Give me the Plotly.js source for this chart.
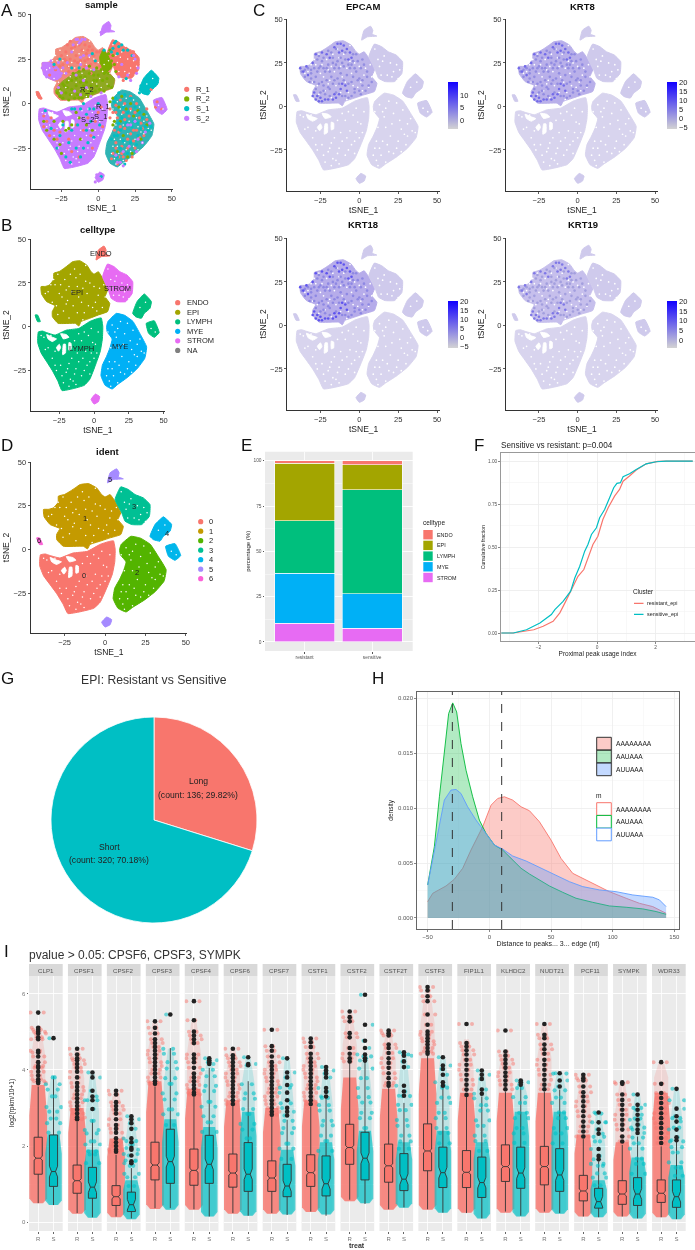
<!DOCTYPE html>
<html><head><meta charset="utf-8">
<script src="https://cdn.plot.ly/plotly-3.0.1.min.js"></script>
<style>html,body{margin:0;padding:0;background:#fff}#chart{filter:blur(.35px)}</style></head>
<body><div id="chart" style="width:695px;height:1250px"></div>
<script>
// ---------- tSNE cluster outlines, [tSNE_1, tSNE_2]
const clusterEPI=[[-38.1,22.9],[-35,23],[-32,23.8],[-29,27],[-28.9,30.5],[-25,31.5],[-21.6,33.3],[-18,35.5],[-15.5,37.1],[-10.3,37.7],[-5.2,35.2],[-2.1,31.4],[0,30],[3.1,31.4],[6.2,27.6],[9.7,21],[8,17.1],[11.3,13.3],[9.7,8.6],[3.1,6.7],[-3.1,4.8],[-9.3,2.9],[-10.9,.4],[-13.4,1.9],[-25.8,1.9],[-29.9,5.7],[-30,8.6],[-28,12],[-34,14.3],[-37.7,18.7]];
const clusterSTROM=[[6.2,28.6],[9.7,35.8],[14.4,34.3],[18.6,31.4],[23.7,29.5],[27.8,25.7],[27.4,19],[22.7,14.3],[16.5,14.3],[12.4,16.2],[10.3,21]];
const clusterUp4=[[27.8,7.6],[30.9,14.3],[36.1,18.7],[41.2,14.3],[40.2,10.5],[36.1,7.6],[34,4.8],[29.9,5.7]];
const clusterLow4=[[37.5,1.9],[43.3,3.4],[46.8,-3.4],[43.3,-6.1],[39.2,-3.8]];
const clusterTop=[[1.5,38.1],[3.1,43.8],[7.2,46.1],[8.7,43.8],[8.2,41.5],[11.3,40.4],[5.2,40]];
const clusterBottom=[[-2.1,-41.5],[1,-38.5],[4.1,-40],[3.1,-42.9],[0,-44.2]];
const clusterTiny=[[-42.3,6.7],[-40.6,6.7],[-38.6,2.9],[-40.6,2.9]];
const clusterLYMPH=[[-40,-3],[-37,-2.5],[-34,-3.4],[-28,-4.8],[-20,-2],[-11,-1],[-3,3],[2,4.5],[5.2,5],[6.3,0],[6,-7],[4.5,-14],[1,-22],[-3,-30],[-7,-33.5],[-15.5,-35.5],[-23,-36.5],[-26,-31],[-30,-25],[-34,-20],[-38,-15],[-40.5,-9]];
const clusterMYE=[[10,3],[16,7.6],[22,6.5],[28,3],[33,-4],[37.8,-11.5],[36.5,-18],[31,-24],[24,-29],[17,-33],[13,-35.6],[8,-33.5],[5,-28],[6,-22],[9,-17],[11.5,-12],[13,-7],[9.5,-3],[9,0]];
const holesLYMPH=[[[-34,-4.5],[-30,-6],[-27,-7],[-30,-8.5],[-33,-7]],[[-24,-4],[-20,-4.5],[-18,-6],[-22,-7]],[[-22,-10],[-20.5,-10],[-20.5,-15],[-22.5,-16]],[[-18,-9],[-16.5,-9.5],[-16.5,-13],[-18,-13.5]],[[-25,-10],[-24,-12],[-25.5,-14],[-27,-12]]];
const specks=[[-33,20],[-28,24],[-25,19],[-21,27],[-19,15],[-16,20],[-13,28],[-11,17],[-8,22],[-5,19],[-3,25],[-1,11],[3,18],[6,11],[-7,8],[-12,8],[-22,9],[-27,12],[-31,24],[-17,30],[-10,30],[-6,35],[0,23],[-15,12],[-24,24],[-18,5],[2,9],[8,17],[13,23],[16,29],[20,25],[24,24],[18,18],[22,20],[14,18],[25,16],[-36,-6],[-33,-12],[-30,-18],[-26,-12],[-24,-22],[-20,-26],[-17,-30],[-13,-24],[-9,-28],[-5,-22],[-2,-15],[1,-10],[3,-3],[-4,-5],[-9,-8],[-12,-15],[-16,-18],[-19,-24],[-15,-31],[-8,-18],[-3,-27],[-14,-8],[-6,-14],[0,-18],[-27,-25],[-22,-32],[-11,-4],[13,1],[19,3],[24,2],[28,-2],[12,-12],[16,-6],[21,-10],[26,-8],[31,-10],[34,-14],[15,-20],[20,-17],[25,-20],[29,-16],[10,-24],[14,-28],[19,-26],[24,-24],[17,-32],[12,-34],[9,-28],[30,-22],[-35,19],[-30,14],[-26,7],[-23,17],[-20,13],[-18,23],[-14,33],[-12,23],[-9,14],[-6,26],[-4,12],[1,14],[4,22],[7,24],[-29,27],[-26,30],[-20,21],[-8,4],[10,33],[15,26],[21,17],[26,21],[12,27],[-38,-5],[-35,-13],[-31,-5],[-28,-14],[-28,-22],[-23,-28],[-18,-21],[-14,-27],[-11,-20],[-7,-25],[-3,-20],[-1,-9],[2,-15],[-7,-3],[-2,-1],[-13,-33],[-18,-34],[10,-3],[17,-1],[22,-4],[27,-13],[33,-7],[36,-15],[11,-20],[17,-12],[22,-27],[27,-26],[13,-24],[18,-22],[15,-3],[31,-17],[11,-31],[15,-36],[33,11],[37,14],[41,-1],[44,-3]];
// ---------- Panel A: visible patches per sample
const regionS2Left=[[-38,23],[-33,23],[-27,20],[-25,15],[-30,13],[-37,16]];
const regionR2Low=[[-29,7],[-25,2.5],[-10,3],[3,7],[10,9],[11,14],[7,17],[-2,19],[-14,18],[-25,12]];
const regionR2Right=[[2,21],[5,17],[9.5,21],[6,28],[3,30],[1,26]];
const sampleR1=[[-22,29],[-18,31],[-25,27],[-15,27],[-11,30],[-12,34],[-8,28],[-6,32],[-3,27],[-14,23],[-19,25],[-9,24],[-5,22],[-24,22],[-29,19],[-20,18],[14,30],[17,25],[20,22],[15,20],[18,17],[23,22],[12,24],[21,28],[25,18],[17,13],[22,16],[26,24],[8,-8],[12,-5],[15,-13],[11,-15],[20,-20],[16,-24],[12,-22],[24,-15],[18,-9],[10,-28],[25,-25],[28,-8],[22,-3],[15,2],[30,-14],[14,-30],[19,-32],[-30,-15],[-35,-10],[2,-2],[-5,-18],[-20,-20],[-28,-20],[40,1],[43,-3],[39,-2],[36,8],[-41,5],[-39,3],[-27,25],[-23,25],[-21,33],[-19,35],[-16,32],[-13,33],[-9,33],[-7,30],[-4,30],[-1,29],[1,29],[-16,24],[-12,24],[-7,25],[-3,24],[-22,24],[-26,21],[-30,21],[-33,16],[-20,21],[-15,19],[-9,21],[-5,17],[-2,23],[1,21],[16,28],[19,31],[12,21],[15,23],[19,19],[22,25],[26,21],[23,18],[20,15],[18,23],[24,29],[14,17],[27,22],[10,-5],[13,-8],[17,-5],[21,-7],[25,-5],[29,-11],[33,-9],[14,-16],[18,-14],[22,-17],[26,-15],[12,-25],[16,-28],[20,-25],[24,-21],[28,-19],[31,-18],[13,-34],[17,-30],[23,-30],[9,-31],[18,0],[26,0],[12,-1],[8,-3],[22,4],[33,-3],[-37,-7],[-32,-8],[-37,-13],[-33,-18],[-26,-16],[-15,-12],[-7,-8],[-2,-10],[-10,-15],[-4,-25],[-18,-27],[0,-5],[3,-13],[-13,-30]];
const sampleR2=[[-8,12],[-12,15],[-15,10],[-18,8],[-22,6],[-10,7],[-5,10],[-3,13],[0,16],[3,13],[6,14],[-6,17],[-14,5],[-24,3],[-26,8],[-18,13],[-2,7],[8,20],[6,25],[7,28],[9,24],[5,22],[10,27],[12,18],[-1,20],[-10,19],[-7,4],[-20,2],[10,3],[14,-2],[22,0],[27,-4],[17,-18],[11,-10],[33,-12],[23,-28],[-18,-12],[-15,-5],[-30,-10],[-12,-20],[-22,-15],[-35,-15],[-25,-28],[-28,6],[-26,4],[-23,10],[-21,12],[-19,5],[-16,3],[-13,3],[-12,12],[-10,10],[-8,5],[-6,7],[-4,6],[-1,10],[1,8],[4,7],[7,10],[9,9],[-15,14],[-9,15],[-3,16],[2,19],[-6,21],[-1,13],[4,17],[7,17],[-17,17],[-13,18],[3,26],[4,29],[7,23],[2,23],[8,30],[11,22],[-24,11],[-21,9],[-11,3],[-30,-20],[-26,-23],[-20,-14],[-8,-12],[-13,-8],[-4,-15],[-37,-10],[-24,-10],[15,-10],[19,-3],[24,-7],[13,-27],[31,-6],[10,-12],[20,-30],[29,-20],[8,1],[16,4]];
const sampleS1=[[30,8],[33,13],[36,16],[38,13],[35,10],[31,12],[39,15],[37,9],[28,6],[12,35],[10,31],[13,28],[20,30],[16,33],[12,3],[18,5],[25,-2],[20,-5],[30,-8],[16,-8],[27,-18],[13,-18],[20,-28],[15,-25],[34,-15],[9,-20],[24,-10],[-16,-3],[-12,-3],[-8,-6],[-3,-3],[-18,-15],[-14,-12],[-10,-25],[-22,-30],[-5,-10],[-28,-25],[2,-41],[-18,20],[-30,22],[-2,24],[29,10],[32,9],[34,15],[37,17],[40,12],[35,13],[33,6],[38,11],[14,6],[11,1],[22,3],[17,-2],[28,-5],[14,-11],[19,-11],[23,-13],[27,-11],[32,-13],[11,-18],[17,-21],[22,-22],[26,-23],[13,-30],[18,-34],[15,-15],[29,-14],[36,-13],[-10,0],[-18,-3],[-6,-3],[0,0],[-24,-12],[-26,-18],[-20,-22],[-15,-25],[-7,-22],[-12,-30],[-3,-19],[1,-12],[-36,-4],[-32,-14],[-19,-33],[-8,-15],[11,34],[14,32],[17,30],[9,29],[23,27],[19,14],[-26,25],[-13,20],[-4,28],[4,30]];
const sampleS2=[[-37,22],[-33,19],[-35,15],[-30,16],[-28,14],[-32,24],[-25,17],[-14,36],[-12,35],[-17,33],[-9,36],[-12,26],[-10,13],[-16,7],[6,44],[4,41],[7,42],[0,-43],[-1,-40],[25,-10],[30,-22],[17,-35],[13,-33],[20,-12],[24,27],[27,20],[22,13],[14,15],[42,-2],[44,-4],[40,-1],[-38,20],[-36,18],[-34,21],[-31,18],[-29,20],[-27,16],[-27,23],[-24,20],[-21,23],[-22,17],[-15,36],[-11,36],[-13,34],[-18,29],[-10,27],[-6,27],[-15,16],[-12,22],[-8,20],[-3,19],[-8,9],[-12,5],[-25,6],[-27,9],[2,6],[-5,4],[27,-20],[21,-24],[17,-27],[15,-33],[32,-16],[35,-11],[22,-12],[12,-29],[26,-27],[25,25],[26,17],[20,16],[16,22],[5,43],[2,40],[-2,-44],[1,-42],[41,-4],[45,-2],[43,1]];
// ---------- Feature panels: brighter EPI cells
const hotRim=[[-30,6],[-28,4],[-26,3],[-24,3],[-27,6],[-25,5],[-22,4],[-29,8],[-20,4],[-17,4],[-15,5],[-13,7],[-16,7],[-12,10],[-11,13],[-9,12],[-8,9],[-12,36],[-14,36],[-10,35],[-8,33],[-6,31],[-5,28],[-16,34],[-11,32],[-13,31],[-7,27],[-38,22],[-36,20],[-34,23],[-33,18],[-30,25],[-28,30],[-24,31],[-21,30],[-19,28]];
const hotMid=[[-35,17],[-31,21],[-28,17],[-26,22],[-24,26],[-22,20],[-20,24],[-18,17],[-16,22],[-14,26],[-12,19],[-10,23],[-8,18],[-6,22],[-4,26],[-2,20],[0,16],[-5,14],[-3,10],[2,12],[5,17],[-20,11],[-23,9],[-26,13],[-17,13],[-14,16],[-9,6],[-5,6],[1,7],[4,9],[-2,30],[2,27],[-18,31],[-32,14],[-27,27],[-37,20],[-35,21],[-33,22],[-31,19],[-29,22],[-27,20],[-25,23],[-23,22],[-21,22],[-19,20],[-17,25],[-15,24],[-13,22],[-11,25],[-9,27],[-7,24],[-5,24],[-3,22],[-1,26],[1,22],[3,24],[5,20],[-26,29],[-23,28],[-20,32],[-17,28],[-15,33],[-12,28],[-9,31],[-4,30],[-31,16],[-29,14],[-24,14],[-21,15],[-19,10],[-16,15],[-13,13],[-10,15],[-7,13],[-4,17],[-1,15],[2,15],[6,12],[8,14],[-22,7],[-19,6],[-15,8],[-11,6],[-7,5],[-3,8],[0,9],[-28,10],[-25,8],[-23,12]];
const featureNames=['EPCAM','KRT8','KRT18','KRT19'];
const featureRange=[[-3.6,15.3],[-6,20.3],[-5.6,20.3],[-4,20.3]];
const featureTicks=[[0,5,10],[-5,0,5,10,15,20],[-5,0,5,10,15,20],[0,5,10,15,20]];
const featureRim=[6,7,10,6.5];
const featureMid=[2.6,2.8,3.6,2];
// ---------- Panel E
const cellTypes=['STROM','MYE','LYMPH','EPI','ENDO'];
const cellColors=['#E76BF3','#00B0F6','#00BF7D','#A3A500','#F8766D'];
const groupsE=['resistant','sensitive'];
const resistantPct=[10.3,27.6,28.9,31.8,1.4];
const sensitivePct=[7.5,19.2,57.3,13.8,2.2];
// ---------- Panel F
const fResX=[-3.27,-2.86,-2.16,-1.84,-1.5,-1.27,-1.07,-.82,-.65,-.45,-.31,-.14,.03,.2,.38,.6,.77,.89,1.11,1.34,1.68,2.08,2.36,3.27];
const fResY=[0,0,.019,.039,.068,.117,.184,.272,.33,.369,.437,.515,.563,.66,.728,.796,.835,.883,.913,.948,.984,.998,1,1];
const fSenX=[-3.27,-2.86,-2.41,-1.95,-1.56,-1.44,-1.16,-.9,-.76,-.59,-.42,-.31,-.19,-.02,.09,.26,.43,.57,.68,.8,.89,1.11,1.34,1.68,2.02,2.36,3.27];
const fSenY=[0,0,.019,.058,.107,.136,.184,.243,.32,.388,.476,.515,.573,.612,.67,.718,.786,.845,.87,.874,.909,.926,.951,.984,.996,1,1];
// ---------- Panel G
const pieLabels=['Long','Short'];
const pieCounts=[136,320];
// ---------- Panel H
const hRedX=[-50,-45.9,-35.1,-28.4,-21.6,-14.9,-5.4,1.4,6.8,12.2,18.9,25.7,32.5,40.6,50,58.1,67.6,78.4,89.2,97.3,110.9,121.7,132.5,143.3];
const hRedY=[.00148,.00224,.00291,.00352,.00452,.00618,.0083,.01027,.01088,.01103,.01073,.01012,.00976,.00876,.00709,.00542,.00406,.00345,.00279,.00239,.00179,.00133,.00103,.00042];
const hGreenX=[-50,-44.6,-40.5,-36.5,-33,-29.7,-26.5,-23,-18.9,-13.5,-8.1,-2.7,4.1,10.8,17.6,25.7,32.5,40.6,48.7,59.5,70.3,83.8,97.3,110.9,124.4,135.2,143.3];
const hGreenY=[.003,.00648,.01103,.01497,.01861,.01958,.01876,.01588,.01345,.01103,.00891,.0077,.00664,.00618,.00542,.00452,.004,.00345,.00291,.00233,.00179,.00142,.00109,.00097,.00082,.00058,.00033];
const hBlueX=[-50,-44.6,-40.5,-36.5,-31.1,-27,-23,-17.6,-10.8,-2.7,4.1,10.8,18.9,29.8,40.6,51.4,64.9,75.7,89.2,102.7,116.3,132.5,137.9,143.3];
const hBlueY=[.003,.00618,.00861,.01073,.01164,.0117,.01133,.01012,.00891,.0077,.00664,.00627,.00564,.00518,.00461,.004,.0033,.00285,.00255,.00239,.00209,.00188,.00164,.00103];
const hLines=[-30,10];
const motifs=['AAAAAAAA','AAUAAA','AUUAAA'];
// ---------- Panel I: [q1, median, q3, lower whisker, upper whisker]
const genes=['CLP1','CPSF1','CPSF2','CPSF3','CPSF4','CPSF6','CPSF7','CSTF1','CSTF2','CSTF2T','CSTF3','FIP1L1','KLHDC2','NUDT21','PCF11','SYMPK','WDR33'];
const boxR=[[1.26,1.68,2.23,.5,3.56],[.76,1.09,1.5,.24,2.64],[.44,.67,.96,.15,1.77],[1.11,1.5,2.1,.37,3.56],[.97,1.36,1.92,.34,3.3],[.92,1.29,1.79,.24,3.08],[.81,1.16,1.61,.24,2.78],[.94,1.3,1.77,.28,3.04],[1.52,1.96,2.57,.59,4.18],[1.05,1.48,2.05,.34,3.56],[1.35,1.87,2.58,.34,4.4],[.91,1.31,1.88,.24,3.3],[1.07,1.46,2.03,.28,3.43],[.98,1.46,1.99,.28,3.43],[.56,.82,1.23,.15,2.18],[.47,.74,1.09,.15,2.03],[.52,.76,1.11,.13,1.99]];
const boxS=[[.94,1.33,2.29,.45,3.83],[.63,.92,1.44,.13,2.69],[.28,.46,.79,.1,1.42],[1.02,1.59,2.44,.37,4.57],[1.02,1.52,2.28,.15,4.05],[.81,1.26,2.09,.17,3.7],[.67,.95,1.52,.19,2.69],[.69,1.01,1.74,.17,3.3],[1.11,1.68,2.36,.48,4.22],[.83,1.13,1.8,.39,3.13],[.91,1.3,1.97,.25,3.56],[.65,1.04,1.71,.1,3.3],[.89,1.29,1.97,.17,3.56],[.81,1.24,1.93,.24,3.48],[.37,.54,.89,.13,1.59],[.44,.74,1.17,.1,2.25],[.39,.67,1.11,.08,2.12]];
// jittered cloud extent: [bottom, top of dense part, top]
const cloudR=[[.5,3.6,5.15],[.22,3,4.55],[.13,2.2,3.45],[.35,3.7,5.25],[.33,3.5,5.3],[.22,3.2,4.55],[.22,3,4.65],[.27,3.2,4.8],[.55,3.8,5.5],[.33,3.5,5.05],[.33,4.3,6.1],[.25,3.4,4.8],[.25,3.4,4.5],[.25,3.4,5.2],[.15,2.3,3.9],[.15,2.1,3.7],[.13,3.4,4.2]];
const cloudS=[[.45,2.3,3.85],[.12,1.9,3.9],[.08,1.1,2.8],[.33,2.7,4.55],[.15,2.5,4.3],[.17,2.9,4.3],[.2,1.9,4.3],[.2,2.1,4.1],[.5,2.4,4.4],[.38,2.1,4.45],[.25,2.4,4.35],[.1,2.1,4],[.15,2.9,3.75],[.22,2.9,3.95],[.13,1.1,2.9],[.1,1.7,3.35],[.08,1.5,3.5]];
const outR=[[5.5,5.1,5.05,5,4.95,4.85,4.8,4.5,4.45,4.35,4.2,4.1,4.05,3.95,3.85,3.75,3.7,3.65],[4.55,4.4,4.3,4.25,4.15,4.05,3.95,3.8,3.65,3.55,3.45,3.35,3.25,3.15,3.05,2.95,2.85,2.75,2.7],[3.45,3.35,3.15,3.05,2.95,2.85,2.7,2.55,2.45,2.35,2.2,2.1,2,1.9,1.85],[5.27,5.1,4.95,4.8,4.7,4.6,4.5,4.4,4.3,4.2,4.1,4,3.9,3.8,3.7,3.63],[5.8,5.3,5,4.9,4.8,4.7,4.4,4.3,4.2,4.05,3.9,3.8,3.7,3.6,3.5,3.4,3.35],[4.55,4.38,4.3,4.2,4.1,4,3.9,3.8,3.7,3.6,3.5,3.4,3.3,3.2,3.1],[5.05,4.62,4.5,4.35,4.2,4.1,4,3.9,3.8,3.7,3.6,3.5,3.4,3.3,3.2,3.1,3,2.9,2.82],[4.82,4.72,4.6,4.42,4.3,4.2,4.1,4,3.9,3.8,3.7,3.6,3.5,3.4,3.3,3.2,3.1],[5.53,5.38,5.27,4.96,4.85,4.57,4.42,4.3,4.22],[5.03,4.96,4.9,4.66,4.57,4.44,4.3,4.18,4.05,3.91,3.78,3.65,3.58],[6.17,6.08,5.93,5.8,5.45,5.18,5,4.92,4.83,4.75,4.66,4.57,4.48,4.42],[5.2,4.7,4.61,4.51,4.4,4.26,4.13,4,3.87,3.74,3.61,3.48,3.34],[5.03,4.48,4.37,4.26,4.16,4.05,3.93,3.83,3.72,3.61,3.49],[5.2,4.92,4.83,4.66,4.54,4.42,4.26,4.13,4,3.87,3.74,3.61,3.49],[3.87,3.78,3.72,3.56,3.41,3.3,3.17,3.04,2.91,2.78,2.64,2.51,2.38,2.25],[3.67,3.63,3.35,3.21,3.08,2.95,2.82,2.69,2.56,2.43,2.25,2.12],[4.2,3.63,3.39,3.26,3.13,2.99,2.86,2.73,2.6,2.47,2.34,2.21,2.08]];
const outS=[[4.83],[3.93,3.8,3.45,3.3,3.2,2.97],[2.78,2.7,2.6,2.45,2.2,2.1,1.95,1.9,1.75,1.6,1.55],[5.45],[4.3,4.25,4.2,4.15],[4.33,4.15,4.12],[4.3,3.93,3.8,3.6,3.4,3.2,3,2.9,2.8],[4.07,3.98,3.9,3.8,3.52,3.42,3.3],[5.97,5.18,4.76,4.57,4.4,4.3,4.24],[4.46,4.37,4.22,4.07,3.58,3.43,3.32],[4.33,4.11,4.02,3.87,3.67,3.58],[3.98,3.87,3.76,3.48,3.37],[3.72,3.67,3.61],[3.91,3.72,3.56],[2.88,2.62,2.43,2.32,1.92,1.74,1.65],[3.35,3.08,2.95,2.82,2.69,2.56,2.43,2.34],[3.5,2.98,2.78,2.64,2.43,2.23,2.15]];
const sparseS=[[2.35,2.6,2.72,2.9,3.02,3.3,3.48,3.62,3.8],[1.55,1.78,1.86,2.04,2.12,2.33,2.42,2.66,3.2],[.95,1.18,1.27,1.48,1.62,1.79,2.03,2.13],[2.55,2.83,2.96,3.22,3.38,3.63,3.78,4.03,4.2,4.42,4.55],[2.37,2.62,2.78,3.03,3.16,3.44,3.58,3.83,4],[2.2,2.43,2.58,2.84,2.97,3.24,3.38,3.62],[1.66,1.93,2.06,2.34,2.47,2.66,3.12,3.53],[1.87,2.13,2.27,2.54,2.66,2.93,3.07,3.26],[2.47,2.73,2.87,3.14,3.28,3.52,3.78,4.03,4.35],[1.93,2.12,2.27,2.53,2.68,2.94,3.08,3.31,4.4],[2.07,2.34,2.47,2.73,2.87,3.13,3.27,3.53],[1.87,2.13,2.27,2.53,2.67,2.93,3.07,3.25],[2.08,2.33,2.47,2.73,2.87,3.13,3.28,3.52],[2.07,2.33,2.47,2.73,2.88,3.13,3.27,3.46,3.9],[.97,1.17,1.28,1.48,1.53,2.12,2.24,2.62,2.85],[1.27,1.53,1.67,1.93,2.07,2.22,2.48,2.72,3],[1.22,1.43,1.57,1.83,1.97,2.12,2.48,2.73,3.2]];
const jitterOffsets=[.36,-.42,.18,-.27,.5,-.1,.28,-.5,.08,-.33,.44,-.18,.24,-.46,.12,-.38,.4,-.05,.32,-.24];

// ---------- page helpers
const W=695,H=1250,FONT='"Liberation Sans",Arial,sans-serif';
const traces=[],shapes=[],annotations=[];
const layout={width:W,height:H,margin:{l:0,r:0,t:0,b:0,pad:0},paper_bgcolor:'#fff',plot_bgcolor:'rgba(0,0,0,0)',showlegend:false,font:{family:FONT,color:'#222'},hovermode:false,shapes,annotations};
let axisN=0;
function axes(x0,x1,yT,yB,xr,yr,xo,yo){axisN++;const k=axisN===1?'':axisN;
  layout['xaxis'+k]=Object.assign({domain:[x0/W,x1/W],range:xr,anchor:'y'+k,zeroline:false,showgrid:false,fixedrange:true},xo);
  layout['yaxis'+k]=Object.assign({domain:[1-yB/H,1-yT/H],range:yr,anchor:'x'+k,zeroline:false,showgrid:false,fixedrange:true},yo);
  return {xaxis:'x'+k,yaxis:'y'+k,xk:'x'+k,yk:'y'+k};}
function txt(x,y,text,o={}){annotations.push({xref:'paper',yref:'paper',x:x/W,y:1-y/H,text,showarrow:false,xanchor:o.a||'center',yanchor:'middle',textangle:o.angle||0,font:{size:o.size||8,color:o.color||'#222',family:FONT},borderpad:0,borderwidth:0});}
function rect(x0,y0,x1,y1,o={}){shapes.push({type:o.type||'rect',xref:'paper',yref:'paper',x0:x0/W,x1:x1/W,y0:1-y0/H,y1:1-y1/H,fillcolor:o.fill||'rgba(0,0,0,0)',line:{width:o.lw||0,color:o.lc||'rgba(0,0,0,0)'},layer:o.layer||'above'});}
const dot=(x,y,c)=>rect(x-2.6,y-2.6,x+2.6,y+2.6,{type:'circle',fill:c});
const xs=a=>a.map(p=>p[0]),ys=a=>a.map(p=>p[1]);
function poly(ax,pts,color){traces.push({type:'scatter',mode:'lines',x:xs(pts).concat(pts[0][0]),y:ys(pts).concat(pts[0][1]),fill:'toself',fillcolor:color,line:{color,width:1,shape:'spline',smoothing:.35},xaxis:ax.xaxis,yaxis:ax.yaxis});}
function pts(ax,p,color,size){traces.push({type:'scatter',mode:'markers',x:xs(p),y:ys(p),marker:{color,size,line:{width:0}},xaxis:ax.xaxis,yaxis:ax.yaxis});}
const LET=(x,y,t)=>txt(x,y,t,{size:17,color:'#111',a:'left'});

function tsneAxes(x0,x1,yT,yB,xr,yr){
  const tf={size:7.5,color:'#333',family:FONT},lc={showline:true,linecolor:'#333',linewidth:1,ticks:'outside',ticklen:2,tickcolor:'#333',tickwidth:.8,tickfont:tf,tickvals:[-25,0,25,50]};
  return axes(x0,x1,yT,yB,xr,yr,Object.assign({title:{text:'tSNE_1',font:{size:8.5,color:'#222',family:FONT},standoff:1}},lc),Object.assign({title:{text:'tSNE_2',font:{size:8.5,color:'#222',family:FONT},standoff:2}},lc));}
function drawClusters(ax,map,speckSize){
  poly(ax,clusterLYMPH,map.LYMPH);poly(ax,clusterMYE,map.MYE);poly(ax,clusterEPI,map.EPI);poly(ax,clusterSTROM,map.STROM);
  poly(ax,clusterUp4,map.Up4);poly(ax,clusterLow4,map.Low4);poly(ax,clusterTop,map.Top);poly(ax,clusterBottom,map.Bottom);poly(ax,clusterTiny,map.Tiny);
  holesLYMPH.forEach(h=>poly(ax,h,'#fff'));
  if(speckSize)pts(ax,specks,'#fff',speckSize);
}

// ---------- Panel A
const axA=tsneAxes(30.5,173.3,14,189,[-46,51],[-48,50.3]);
drawClusters(axA,{LYMPH:'#C77CFF',MYE:'#2FB4B4',EPI:'#F08A7C',STROM:'#F8766D',Up4:'#00BFC4',Low4:'#C77CFF',Top:'#C77CFF',Bottom:'#C77CFF',Tiny:'#F8766D'},0);
poly(axA,regionS2Left,'#C77CFF');poly(axA,regionR2Low,'#8FA820');poly(axA,regionR2Right,'#7CAE00');
pts(axA,sampleR1,'#F8766D',3.2);pts(axA,sampleR2,'#7CAE00',3.2);pts(axA,sampleS1,'#00BFC4',3.2);pts(axA,sampleS2,'#C77CFF',3.2);
pts(axA,specks,'#fff',1.5);
txt(101.7,4.8,'<b>sample</b>',{size:9.5,color:'#111'});
[['R_2',-7.3,8],['R_1',3.4,-1.7],['S_1',1.8,-7],['S_2',-7.5,-8.8]].forEach(l=>annotations.push({xref:axA.xk,yref:axA.yk,x:l[1],y:l[2],text:l[0],showarrow:false,font:{size:7.5,color:'#222',family:FONT}}));
['R_1','R_2','S_1','S_2'].forEach((s,i)=>{const y=89.3+i*9.66;dot(186.7,y,['#F8766D','#7CAE00','#00BFC4','#C77CFF'][i]);txt(195.7,y,s,{a:'left',size:7.5});});
LET(1,10,'A');

// ---------- Panel B
const axB=tsneAxes(30.7,165,239,410.7,[-45.5,51],[-48,50.1]);
drawClusters(axB,{LYMPH:'#00BF7D',MYE:'#00B0F6',EPI:'#A3A500',STROM:'#E76BF3',Up4:'#00BF7D',Low4:'#00BF7D',Top:'#F8766D',Bottom:'#E76BF3',Tiny:'#00BF7D'},1.5);
txt(97.3,229,'<b>celltype</b>',{size:9.5,color:'#111'});
[['ENDO',5,41.8],['EPI',-12.2,19.5],['STROM',16.7,21.8],['LYMPH',-9.3,-12.2],['MYE',18.9,-11.6]].forEach(l=>annotations.push({xref:axB.xk,yref:axB.yk,x:l[1],y:l[2],text:l[0],showarrow:false,font:{size:7.5,color:'#222',family:FONT}}));
['ENDO','EPI','LYMPH','MYE','STROM','NA'].forEach((s,i)=>{const y=302.7+i*9.54;dot(177.7,y,['#F8766D','#A3A500','#00BF7D','#00B0F6','#E76BF3','#7F7F7F'][i]);txt(187,y,s,{a:'left',size:7.5});});
LET(1,226,'B');

// ---------- Panel D
const axD=tsneAxes(30.7,187,462,633,[-46,50.7],[-47.6,50]);
drawClusters(axD,{LYMPH:'#F8766D',MYE:'#53B400',EPI:'#C49A00',STROM:'#00C094',Up4:'#00B6EB',Low4:'#00B6EB',Top:'#A58AFF',Bottom:'#A58AFF',Tiny:'#FB61D7'},1.5);
txt(108.3,452,'<b>ident</b>',{size:9.5,color:'#111'});
[['0',-13,-14.9],['1',-12.4,17.9],['2',19.6,-13.3],['3',18.1,24.4],['4',38.1,9],['5',3.1,40],['6',-40.8,5.3]].forEach(l=>annotations.push({xref:axD.xk,yref:axD.yk,x:l[1],y:l[2],text:l[0],showarrow:false,font:{size:7.5,color:'#222',family:FONT}}));
['0','1','2','3','4','5','6'].forEach((s,i)=>{const y=521.7+i*9.5;dot(200.7,y,['#F8766D','#C49A00','#53B400','#00C094','#00B6EB','#A58AFF','#FB61D7'][i]);txt(209.3,y,s,{a:'left',size:7.5});});
LET(1,445,'D');

// ---------- Panel C
const featBox=[[287.3,440,18.7,191,448.3,81.7,129,363.3,6],[506,658,18.7,191,667.3,81.7,129,582.7,6],[287.3,440,237.7,410,448.3,300.7,348,363.3,224.7],[506,658,237.7,410,667.3,300.7,348,582.7,224.7]];
const baseFill='#D8D4EE',epiFill=['#BDB5EA','#B9B0EA','#B6ACEA','#C6BFEC'];
const SCALE=[[0,'#D3D3D3'],[1,'#1100FF']];
featureNames.forEach((f,i)=>{const b=featBox[i];
  const ax=tsneAxes(b[0],b[1],b[2],b[3],[-46.3,51.9],[-48.6,50.4]);
  drawClusters(ax,{LYMPH:baseFill,MYE:baseFill,EPI:epiFill[i],STROM:'#CFCAEC',Up4:'#CFCAEC',Low4:'#CFCAEC',Top:'#CFCAEC',Bottom:'#CFCAEC',Tiny:'#CFCAEC'},1.7);
  const r=featureRange[i];
  traces.push({type:'scatter',mode:'markers',x:xs(hotMid),y:ys(hotMid),marker:{size:2.6,color:hotMid.map(()=>featureMid[i]),cmin:r[0],cmax:r[1],colorscale:SCALE,showscale:false,line:{width:0}},xaxis:ax.xaxis,yaxis:ax.yaxis});
  traces.push({type:'scatter',mode:'markers',x:xs(hotRim),y:ys(hotRim),marker:{size:2.6,color:hotRim.map(()=>featureRim[i]),cmin:r[0],cmax:r[1],colorscale:SCALE,showscale:true,line:{width:0},
    colorbar:{x:b[4]/W,xanchor:'left',xpad:0,y:1-(b[5]+b[6])/2/H,yanchor:'middle',ypad:0,thickness:9.7,thicknessmode:'pixels',len:b[6]-b[5],lenmode:'pixels',outlinewidth:0,ticks:'',tickvals:featureTicks[i],tickfont:{size:7.5,color:'#222',family:FONT}}},xaxis:ax.xaxis,yaxis:ax.yaxis});
  txt(b[7],b[8],'<b>'+f+'</b>',{size:9.5,color:'#111'});
});
LET(253,10,'C');

// ---------- Panel E
rect(265,451.7,412.7,651,{fill:'#EBEBEB',layer:'below'});
const axE=axes(265,412.7,451.7,651,[-.587,1.6],[-5,105],
 {type:'linear',tickvals:[0,1],ticktext:groupsE,showgrid:true,gridcolor:'#fff',gridwidth:.8,ticks:'outside',ticklen:1.5,tickcolor:'#555',tickfont:{size:4.8,color:'#555',family:FONT}},
 {tickvals:[0,25,50,75,100],showgrid:true,gridcolor:'#fff',gridwidth:.8,minor:{dtick:12.5,showgrid:true,gridcolor:'#fff',gridwidth:.4},ticks:'outside',ticklen:1.5,tickcolor:'#555',tickfont:{size:4.8,color:'#555',family:FONT},title:{text:'percentage (%)',font:{size:6,color:'#222',family:FONT},standoff:2}});
cellTypes.forEach((c,i)=>traces.push({type:'bar',x:[0,1],y:[resistantPct[i],sensitivePct[i]],width:.89,marker:{color:cellColors[i],line:{color:'#fff',width:.6}},xaxis:axE.xaxis,yaxis:axE.yaxis}));
layout.barmode='stack';
txt(423,523.3,'celltype',{a:'left',size:6.5});
['ENDO','EPI','LYMPH','MYE','STROM'].forEach((s,i)=>{const y=534.7+i*10.7;rect(423.3,y-4.7,432.7,y+4.7,{fill:['#F8766D','#A3A500','#00BF7D','#00B0F6','#E76BF3'][i]});txt(437,y,s,{a:'left',size:5.4});});
LET(241,445,'E');

// ---------- Panel F
const gridF={showgrid:true,gridcolor:'#ECECEC',gridwidth:.8,showline:true,mirror:true,linecolor:'#999',linewidth:1,ticks:'outside',ticklen:1.5,tickcolor:'#888',tickfont:{size:4.8,color:'#555',family:FONT}};
const axF=axes(500.7,694.5,453.3,641,[-3.29,3.33],[-.0465,1.045],
 Object.assign({tickvals:[-2,0,2],minor:{dtick:1,showgrid:true,gridcolor:'#F2F2F2',gridwidth:.5},title:{text:'Proximal peak usage index',font:{size:6.5,color:'#222',family:FONT},standoff:1}},gridF),
 Object.assign({tickvals:[0,.25,.5,.75,1],tickformat:'.2f',minor:{dtick:.125,showgrid:true,gridcolor:'#F2F2F2',gridwidth:.5},title:{text:'Cumulative fraction',font:{size:5.2,color:'#222',family:FONT},standoff:2}},gridF));
traces.push({type:'scatter',mode:'lines',x:fResX,y:fResY,line:{color:'#F8766D',width:1.2},xaxis:axF.xaxis,yaxis:axF.yaxis});
traces.push({type:'scatter',mode:'lines',x:fSenX,y:fSenY,line:{color:'#00BFC4',width:1.2},xaxis:axF.xaxis,yaxis:axF.yaxis});
txt(501,445.5,'Sensitive vs resistant: p=0.004',{a:'left',size:8.2});
txt(633,591.7,'Cluster',{a:'left',size:6.4});
[['resistant_epi','#F8766D',603.3],['sensitive_epi','#00BFC4',614.3]].forEach(l=>{rect(634,l[2],643.5,l[2],{lw:1.2,lc:l[1]});txt(647,l[2],l[0],{a:'left',size:5.4});});
LET(474,445,'F');

// ---------- Panel G
traces.push({type:'pie',labels:pieLabels,values:pieCounts,sort:false,direction:'clockwise',rotation:0,textinfo:'none',marker:{colors:['#F8766D','#00BFC4'],line:{color:'#fff',width:.8}},domain:{x:[51/W,257/W],y:[1-923/H,1-717/H]}});
txt(154,680.3,'EPI: Resistant vs Sensitive',{size:12.2,color:'#333'});
const pieSum=pieCounts[0]+pieCounts[1];
[[198.3,781.3,795],[109.3,846.7,860.3]].forEach((p,i)=>{txt(p[0],p[1],pieLabels[i],{size:8.6});txt(p[0],p[2],'(count: '+pieCounts[i]+'; '+(100*pieCounts[i]/pieSum).toFixed(2)+'%)',{size:8.6});});
LET(1,678,'G');

// ---------- Panel H
const gridH={showgrid:true,gridcolor:'#EDEDED',gridwidth:.8,showline:true,mirror:true,linecolor:'#666',linewidth:1,ticks:'outside',ticklen:1.5,tickcolor:'#888',tickfont:{size:6,color:'#555',family:FONT}};
const axH=axes(416.7,679.3,691.7,929,[-58.9,154],[-.00101,.0206],
 Object.assign({tickvals:[-50,0,50,100,150],minor:{dtick:25,showgrid:true,gridcolor:'#F3F3F3',gridwidth:.5},title:{text:'Distance to peaks... 3... edge (nt)',font:{size:7,color:'#222',family:FONT},standoff:2}},gridH),
 Object.assign({tickvals:[0,.005,.01,.015,.02],tickformat:'.3f',minor:{dtick:.0025,showgrid:true,gridcolor:'#F3F3F3',gridwidth:.5},title:{text:'density',font:{size:6.5,color:'#222',family:FONT},standoff:3}},gridH));
[[hRedX,hRedY,'#F8766D','rgba(248,118,109,.38)'],[hGreenX,hGreenY,'#00BA38','rgba(0,186,56,.30)'],[hBlueX,hBlueY,'#619CFF','rgba(97,156,255,.38)']].forEach(s=>traces.push({type:'scatter',mode:'lines',x:s[0],y:s[1],fill:'tozeroy',fillcolor:s[3],line:{color:s[2],width:.9},xaxis:axH.xaxis,yaxis:axH.yaxis}));
hLines.forEach(v=>shapes.push({type:'line',xref:axH.xk,yref:axH.yk+' domain',x0:v,x1:v,y0:0,y1:1,line:{color:'#333',width:1,dash:'dash'},layer:'above'}));
const keyFill=['rgba(248,118,109,.38)','rgba(0,186,56,.30)','rgba(97,156,255,.38)'],keyLine=['#F8766D','#00BA38','#619CFF'];
motifs.forEach((m,i)=>{const y=737.3+i*12.8;rect(596.7,y,611.3,y+12.8,{fill:keyFill[i],lw:1,lc:'#333'});txt(615.7,y+6.4,m,{a:'left',size:6.6});});
txt(596,795.3,'m',{a:'left',size:6.6});
motifs.forEach((m,i)=>{const y=802.7+i*12.7;rect(596.7,y,611.3,y+12.7,{fill:'#fff',lw:1,lc:keyLine[i]});txt(615.7,y+6.4,m,{a:'left',size:6.6});});
LET(372,678,'H');

// ---------- Panel I
const pitch=(652-29)/16,fw=33.7,C_R='#F8766D',C_S='#00BFC4';
function cloudPath(cx,lo,top,wBody,wTop,yNarrow){return 'M'+(cx-wBody*.55)+','+lo+' L'+(cx-wBody)+','+(lo+.12)+' L'+(cx-wBody)+','+yNarrow+' L'+(cx-wTop)+','+top+' L'+(cx+wTop)+','+top+' L'+(cx+wBody)+','+yNarrow+' L'+(cx+wBody)+','+(lo+.12)+' L'+(cx+wBody*.55)+','+lo+' Z';}
genes.forEach((g,i)=>{
  const x0=29+i*pitch,x1=x0+fw;
  rect(x0,976,x1,1231,{fill:'#EBEBEB',layer:'below'});
  rect(x0,964,x1,976,{fill:'#D9D9D9'});
  txt((x0+x1)/2,970.3,g,{size:6.2,color:'#555'});
  const ax=axes(x0,x1,976,1231,[.4,2.6],[-.23,6.46],
   {tickvals:[1,2],ticktext:['R','S'],showgrid:true,gridcolor:'#fff',gridwidth:.8,ticks:'outside',ticklen:1.5,tickcolor:'#666',tickfont:{size:6,color:'#777',family:FONT},showticklabels:true},
   {tickvals:[0,2,4,6],showgrid:true,gridcolor:'#fff',gridwidth:.8,minor:{dtick:1,showgrid:true,gridcolor:'#fff',gridwidth:.4},ticks:i?'':'outside',ticklen:1.5,tickcolor:'#666',tickfont:{size:6,color:'#777',family:FONT},showticklabels:i===0});
  [[cloudR[i],1,C_R,.58],[cloudS[i],2,C_S,.54]].forEach(c=>{
    const v=c[0],narrow=(v[1]+v[2])/2;
    shapes.push({type:'path',xref:ax.xk,yref:ax.yk,path:cloudPath(c[1],v[0],v[2],c[3]*.8,.16,narrow),fillcolor:c[2]+'2E',line:{width:0},layer:'between'});
    shapes.push({type:'path',xref:ax.xk,yref:ax.yk,path:cloudPath(c[1],v[0],v[1],c[3],c[3]*.72,v[1]*.78),fillcolor:c[2]+(c[1]===1?'CC':'A8'),line:{width:0},layer:'between'});
  });
  [[boxR[i],1,C_R,.05],[boxS[i],2,C_S,.14]].forEach(b=>{const v=b[0];
    traces.push({type:'box',x:[b[1]],q1:[v[0]],median:[v[1]],q3:[v[2]],lowerfence:[v[3]],upperfence:[v[4]],notched:true,notchspan:[b[3]],notchwidth:.25,width:.53,whiskerwidth:0,boxpoints:false,fillcolor:b[2],line:{color:'#333',width:.9},xaxis:ax.xaxis,yaxis:ax.yaxis});
  });
  // jittered dots around the whisker ends
  const jit=(ys,cx,shift)=>ys.map((_,j)=>cx+jitterOffsets[(j+shift)%jitterOffsets.length]);
  const dots=(xv,yv,c,s,op)=>traces.push({type:'scatter',mode:'markers',x:xv,y:yv,marker:{size:s,color:c,opacity:op,line:{width:0}},xaxis:ax.xaxis,yaxis:ax.yaxis});
  dots(jit(outR[i],1,0),outR[i],C_R,4,.5);
  dots(jit(outR[i],1,7),outR[i],C_R,4,.5);
  dots(jit(outS[i],2,3),outS[i],C_S,4,.55);
  dots(jit(sparseS[i],2,i),sparseS[i],C_S,4.2,.6);
  dots(jit(sparseS[i],2,i+9),sparseS[i],C_S,4.2,.6);
  dots(outR[i].map(()=>1),outR[i],'#222',4.6,1);
  dots(outS[i].map(()=>2),outS[i],'#222',4.6,1);
});
txt(29,955.3,'pvalue &gt; 0.05: CPSF6, CPSF3, SYMPK',{a:'left',size:12,color:'#333'});
txt(12,1103,'log2(rpkm/10+1)',{size:6.6,angle:-90});
txt(357,1245.5,'<b>treat</b>',{size:7,color:'#333'});
LET(4,951,'I');

Plotly.newPlot('chart',traces,layout,{displayModeBar:false,staticPlot:true,responsive:false});
</script></body></html>
